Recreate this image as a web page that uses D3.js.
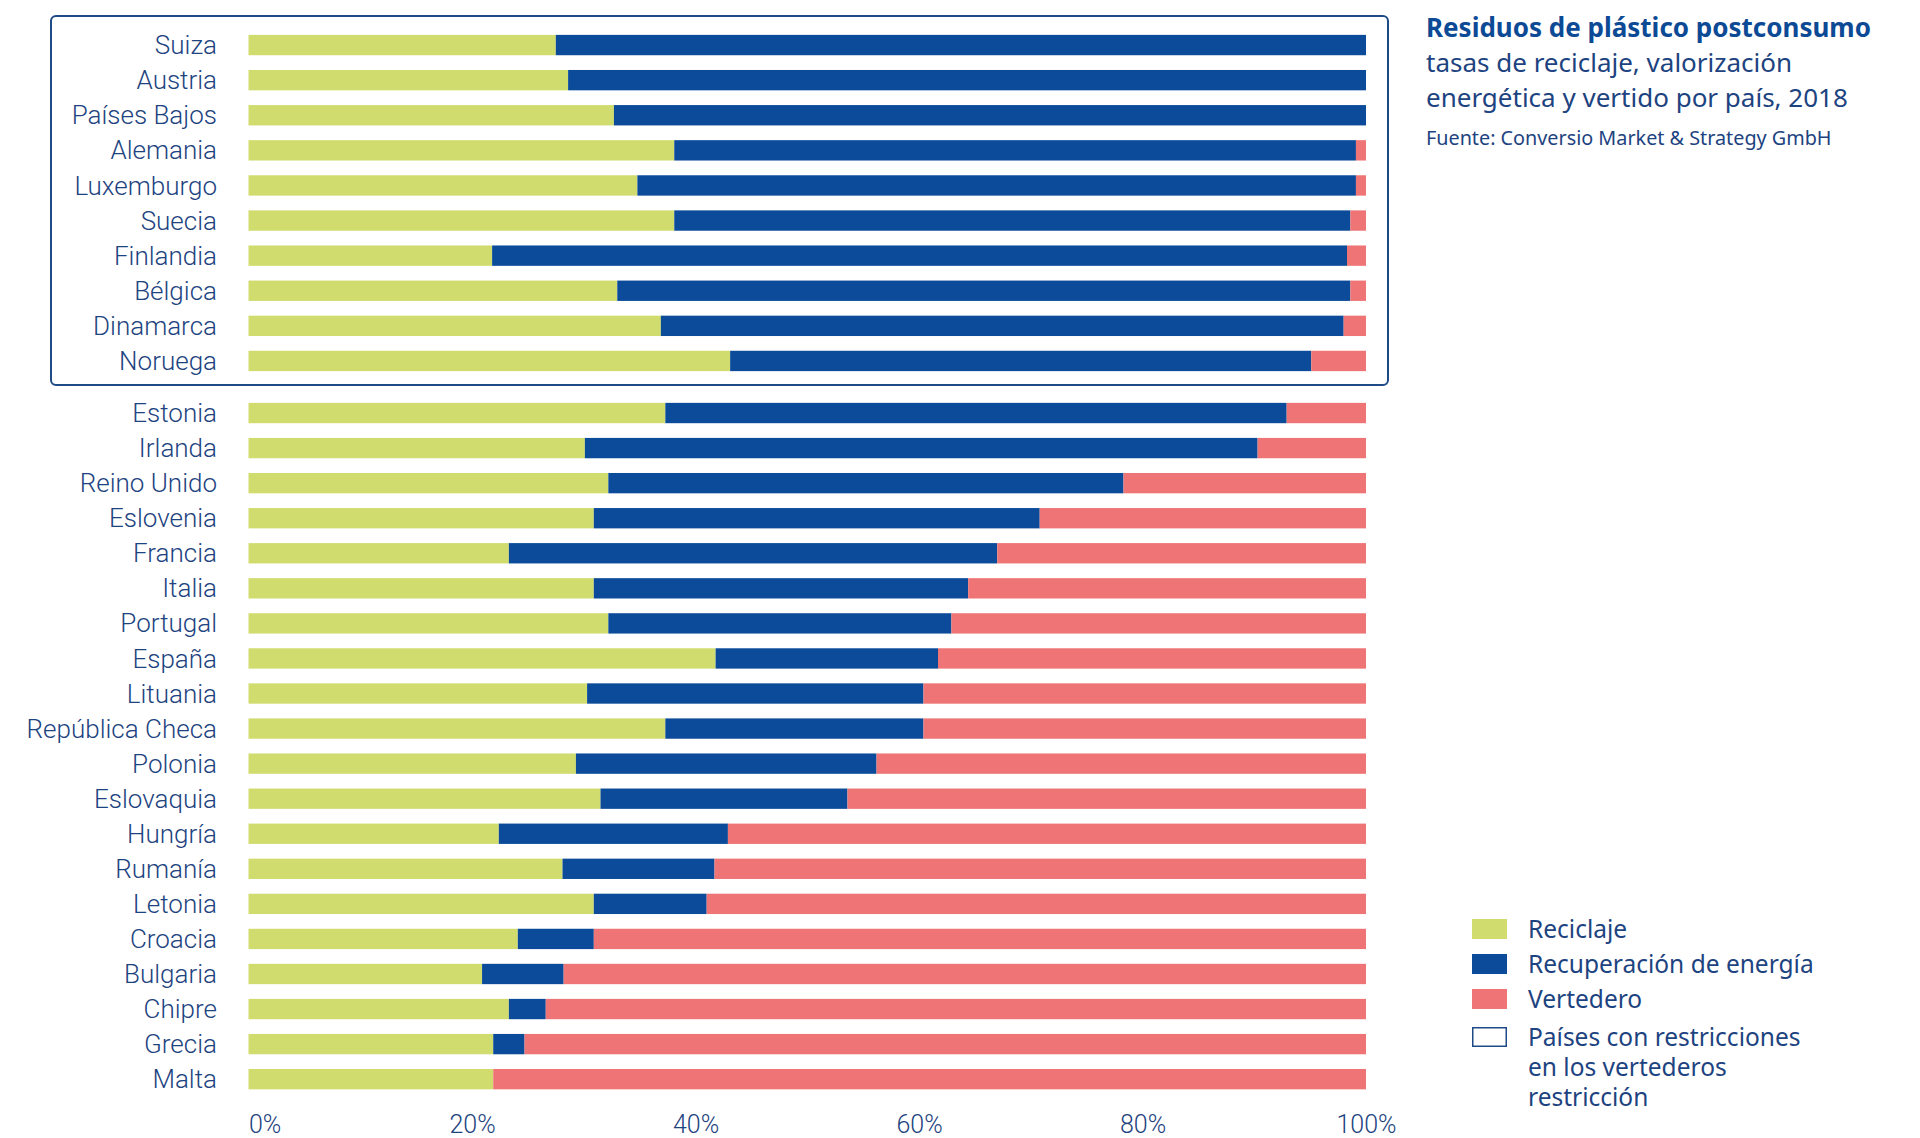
<!DOCTYPE html>
<html>
<head>
<meta charset="utf-8">
<script src="https://cdn.jsdelivr.net/npm/d3@7"></script>
<style>
  html, body { margin: 0; padding: 0; background: #ffffff; }
  svg { display: block; }
</style>
</head>
<body>
<svg id="chart" width="1920" height="1138"></svg>
<script>
// ---- Data ----
const restrictedCountries = ["Suiza","Austria","Países Bajos","Alemania","Luxemburgo","Suecia","Finlandia","Bélgica","Dinamarca","Noruega"];
const restrictedRecycling = [27.5, 28.6, 32.7, 38.1, 34.8, 38.1, 21.8, 33.0, 36.9, 43.1];
const restrictedEnergy    = [72.5, 71.4, 67.3, 61.0, 64.3, 60.5, 76.5, 65.6, 61.1, 52.0];
const restrictedLandfill  = [0.0, 0.0, 0.0, 0.9, 0.9, 1.4, 1.7, 1.4, 2.0, 4.9];

const otherCountries = ["Estonia","Irlanda","Reino Unido","Eslovenia","Francia","Italia","Portugal","España","Lituania","República Checa","Polonia","Eslovaquia","Hungría","Rumanía","Letonia","Croacia","Bulgaria","Chipre","Grecia","Malta"];
const otherRecycling = [37.3, 30.1, 32.2, 30.9, 23.3, 30.9, 32.2, 41.8, 30.3, 37.3, 29.3, 31.5, 22.4, 28.1, 30.9, 24.1, 20.9, 23.3, 21.9, 21.9];
const otherEnergy    = [55.6, 60.2, 46.1, 39.9, 43.7, 33.5, 30.7, 19.9, 30.1, 23.1, 26.9, 22.1, 20.5, 13.6, 10.1, 6.8, 7.3, 3.3, 2.8, 0.0];
const otherLandfill  = [7.1, 9.7, 21.7, 29.2, 33.0, 35.6, 37.1, 38.3, 39.6, 39.6, 43.8, 46.4, 57.1, 58.3, 59.0, 69.1, 71.8, 73.4, 75.3, 78.1];

const seriesKeys = ["Reciclaje", "Recuperación de energía", "Vertedero"];
const seriesColors = ["#d1dc6f", "#0c4b9a", "#ee7475"];
const xTicks = [0, 20, 40, 60, 80, 100];

const titleText = "Residuos de plástico postconsumo";
const subtitleLines = ["tasas de reciclaje, valorización", "energética y vertido por país, 2018"];
const sourceText = "Fuente: Conversio Market & Strategy GmbH";
const restrictionLegendLines = ["Países con restricciones", "en los vertederos", "restricción"];

// ---- Build rows ----
function rows(names, rec, en, lf) {
  return names.map((n, i) => ({ name: n, "Reciclaje": rec[i], "Recuperación de energía": en[i], "Vertedero": lf[i] }));
}
const topRows = rows(restrictedCountries, restrictedRecycling, restrictedEnergy, restrictedLandfill);
const botRows = rows(otherCountries, otherRecycling, otherEnergy, otherLandfill);

const textColor = "#1d4380";
const titleColor = "#0d4a96";
const labelFont = "Roboto, 'Liberation Sans', sans-serif";
const textFont = "'Noto Sans', Lato, sans-serif";

const svg = d3.select("#chart");

const x = d3.scaleLinear().domain([0, 100]).range([248.5, 1366]);
const yTop = d3.scaleBand().domain(restrictedCountries).range([27.5, 378.5]).paddingInner(0.42).paddingOuter(0.21);
const yBot = d3.scaleBand().domain(otherCountries).range([395.5, 1096.7]).paddingInner(0.42).paddingOuter(0.21);

const stack = d3.stack().keys(seriesKeys);
const color = d3.scaleOrdinal().domain(seriesKeys).range(seriesColors);

// restriction box
svg.append("rect")
  .attr("x", 51).attr("y", 16)
  .attr("width", 1388 - 51).attr("height", 385 - 16)
  .attr("rx", 5).attr("ry", 5)
  .attr("fill", "none")
  .attr("stroke", "#1e4a86")
  .attr("stroke-width", 2);

function drawGroup(data, y) {
  const g = svg.append("g");
  const layers = stack(data);
  g.selectAll("g.layer").data(layers).join("g")
    .attr("class", "layer")
    .attr("fill", d => color(d.key))
    .selectAll("rect").data(d => d).join("rect")
      .attr("x", d => x(d[0]))
      .attr("width", d => Math.max(0, x(d[1]) - x(d[0])))
      .attr("y", d => y(d.data.name))
      .attr("height", y.bandwidth());

  const axis = d3.axisLeft(y).tickSize(0).tickPadding(0);
  const ag = g.append("g").attr("transform", `translate(${217},0)`).call(axis);
  ag.select(".domain").remove();
  ag.selectAll("text")
    .attr("fill", textColor)
    .style("font-family", labelFont)
    .style("font-weight", "300")
    .style("font-size", "26px")
    .attr("dy", "0.35em");
}
drawGroup(topRows, yTop);
drawGroup(botRows, yBot);

// x axis
const xAxis = d3.axisBottom(x).tickValues(xTicks).tickFormat(d => d + "%").tickSize(0).tickPadding(0);
const xg = svg.append("g").attr("transform", "translate(0,1133)").call(xAxis);
xg.select(".domain").remove();
xg.selectAll("text")
  .attr("y", 0).attr("dy", 0)
  .attr("fill", textColor)
  .style("font-family", labelFont)
  .style("font-weight", "300")
  .style("font-size", "25px")
  .attr("text-anchor", d => d === 0 ? "start" : "middle");

// title block
const tb = svg.append("g").attr("transform", "translate(1426,0)");
tb.append("text").attr("x", 0).attr("y", 37)
  .text(titleText)
  .attr("fill", titleColor)
  .style("font-family", textFont)
  .style("font-weight", "700")
  .style("font-size", "26px");
tb.selectAll("text.sub").data(subtitleLines).join("text")
  .attr("class", "sub")
  .attr("x", 0).attr("y", (d, i) => 72 + i * 35)
  .text(d => d)
  .attr("fill", textColor)
  .style("font-family", textFont)
  .style("font-size", "26px");
tb.append("text").attr("x", 0).attr("y", 145)
  .text(sourceText)
  .attr("fill", textColor)
  .style("font-family", textFont)
  .style("font-size", "19.8px");

// legend
const lg = svg.append("g").attr("transform", "translate(1472,919)");
const item = lg.selectAll("g.item").data(seriesKeys).join("g")
  .attr("class", "item")
  .attr("transform", (d, i) => `translate(0,${i * 35})`);
item.append("rect").attr("width", 35).attr("height", 20).attr("fill", d => color(d));
item.append("text").attr("x", 56).attr("y", 10).attr("dy", "0.35em")
  .text(d => d)
  .attr("fill", textColor)
  .style("font-family", textFont)
  .style("font-size", "24.5px");
const rItem = lg.append("g").attr("transform", `translate(0,${3 * 35 + 3})`);
rItem.append("rect").attr("x", 0.75).attr("y", 0.75).attr("width", 33.5).attr("height", 18.5)
  .attr("fill", "#ffffff").attr("stroke", "#1e4a86").attr("stroke-width", 1.5);
rItem.selectAll("text").data(restrictionLegendLines).join("text")
  .attr("x", 56).attr("y", (d, i) => 10 + i * 30).attr("dy", "0.35em")
  .text(d => d)
  .attr("fill", textColor)
  .style("font-family", textFont)
  .style("font-size", "24.5px");
</script>
</body>
</html>
